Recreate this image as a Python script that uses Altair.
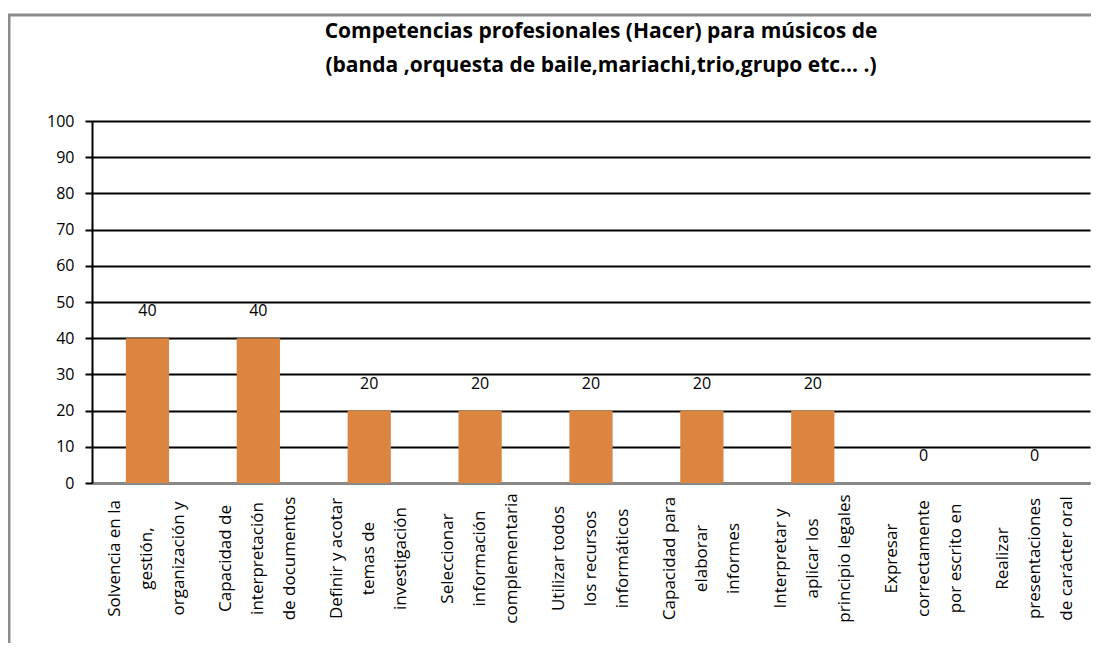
import altair as alt
import pandas as pd

categories = [
    "Solvencia en la\ngestión,\norganización y",
    "Capacidad de\ninterpretación\nde documentos",
    "Definir y acotar\ntemas de\ninvestigación",
    "Seleccionar\ninformación\ncomplementaria",
    "Utilizar todos\nlos recursos\ninformáticos",
    "Capacidad para\nelaborar\ninformes",
    "Interpretar y\naplicar los\nprincipio legales",
    "Expresar\ncorrectamente\npor escrito en",
    "Realizar\npresentaciones\nde carácter oral",
]
values = [40, 40, 20, 20, 20, 20, 20, 0, 0]
y_ticks = [0, 10, 20, 30, 40, 50, 60, 70, 80, 90, 100]

title_lines = [
    "Competencias profesionales (Hacer) para músicos de",
    "(banda ,orquesta de baile,mariachi,trio,grupo etc… .)",
]

df = pd.DataFrame({"cat": categories, "val": values})
one = pd.DataFrame({"k": [0]})

W, H = 998, 362
FONT = "Open Sans"

x_enc = alt.X(
    "cat:N",
    sort=None,
    title=None,
    scale=alt.Scale(paddingInner=0.61, paddingOuter=0.305),
    axis=alt.Axis(
        labelAngle=-90,
        labelAlign="center",
        labelBaseline="middle",
        labelExpr="split(datum.label, '\\n')",
        labelLineHeight=32,
        labelPadding=75,
        labelOffset=-32,
        labelFontSize=17,
        labelFont=FONT,
        labelColor="#000",
        ticks=False,
        domainColor="#8c8c8c",
        domainWidth=2,
        grid=False,
        labelLimit=400,
        labelOverlap=False,
    ),
)

y_enc = alt.Y(
    "val:Q",
    title=None,
    scale=alt.Scale(domain=[0, 100]),
    axis=alt.Axis(
        values=y_ticks,
        labelFontSize=16,
        labelFont=FONT,
        labelColor="#000",
        labelPadding=11,
        labelOverlap=False,
        tickSize=7,
        tickWidth=2,
        tickColor="#000",
        domainColor="#000",
        domainWidth=2,
        gridColor="#000",
        gridWidth=2,
        gridOpacity=1,
    ),
)

frame = alt.Chart(one).mark_rect(
    filled=False, stroke="#8c8c8c", strokeWidth=3
).encode(
    x=alt.value(-83), x2=alt.value(W + 200),
    y=alt.value(-106), y2=alt.value(H + 300),
)

title = alt.Chart(one).mark_text(
    text=title_lines,
    font=FONT,
    fontSize=21,
    fontWeight="bold",
    color="#000",
    align="center",
    baseline="alphabetic",
    lineHeight=34,
).encode(x=alt.value(W / 2 + 10), y=alt.value(-83))

bars = alt.Chart(df).mark_bar(color="#dc8541").encode(x=x_enc, y=y_enc)

labels = alt.Chart(df).mark_text(
    dy=-27, fontSize=16, font=FONT, color="#000", baseline="middle"
).encode(
    x=x_enc,
    y=y_enc,
    text=alt.Text("val:Q"),
)

chart = alt.layer(frame, title, bars, labels).properties(
    width=W,
    height=H,
    autosize=alt.AutoSizeParams(type="none"),
    padding={"left": 84, "top": 113, "right": 1, "bottom": 160},
).configure_view(stroke=None)

chart.save("out.html", embed_options={"renderer": "svg", "actions": False})
